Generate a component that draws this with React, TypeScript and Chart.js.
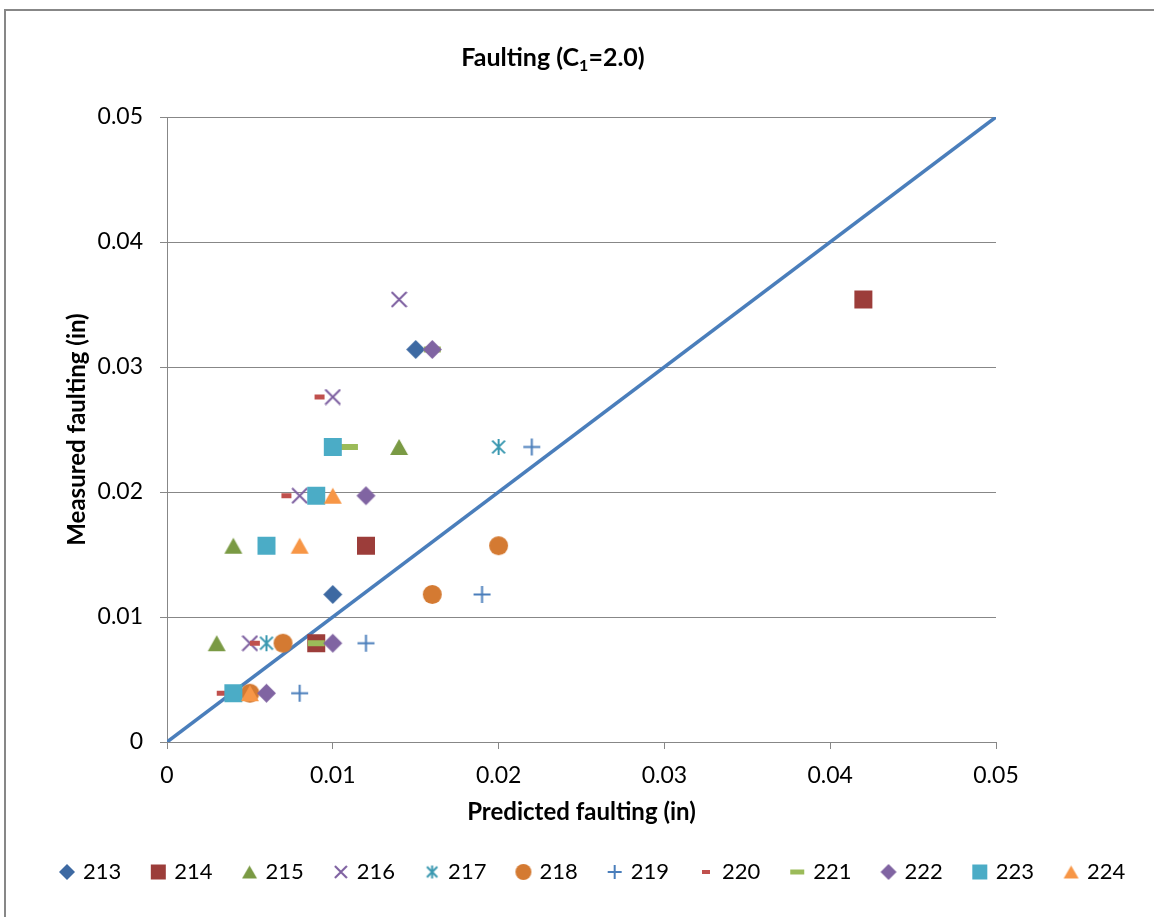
import React, { useEffect, useRef } from 'react';
import { Chart, registerables } from 'chart.js';

Chart.register(...registerables);

// ---- Data ----
const seriesNames = ['213', '214', '215', '216', '217', '218', '219', '220', '221', '222', '223', '224'];
const s213 = [[0.010, 0.0118], [0.015, 0.0314]];
const s214 = [[0.009, 0.0079], [0.012, 0.0157], [0.042, 0.0354]];
const s215 = [[0.003, 0.0079], [0.004, 0.0157], [0.014, 0.0236]];
const s216 = [[0.005, 0.0079], [0.008, 0.0197], [0.010, 0.0276], [0.014, 0.0354]];
const s217 = [[0.006, 0.0079], [0.020, 0.0236]];
const s218 = [[0.005, 0.0039], [0.007, 0.0079], [0.016, 0.0118], [0.020, 0.0157]];
const s219 = [[0.008, 0.0039], [0.012, 0.0079], [0.019, 0.0118], [0.022, 0.0236]];
const s220 = [[0.0033, 0.0039], [0.0053, 0.0079], [0.0072, 0.0197], [0.0092, 0.0276]];
const s221 = [[0.009, 0.0079], [0.011, 0.0236], [0.016, 0.0314]];
const s222 = [[0.006, 0.0039], [0.010, 0.0079], [0.012, 0.0197], [0.016, 0.0314]];
const s223 = [[0.004, 0.0039], [0.006, 0.0157], [0.009, 0.0197], [0.010, 0.0236]];
const s224 = [[0.005, 0.0039], [0.008, 0.0157], [0.010, 0.0197]];
const seriesData = [s213, s214, s215, s216, s217, s218, s219, s220, s221, s222, s223, s224];

const lineOfEquality = [[0, 0], [0.05, 0.05]];

const xTickLabels = ['0', '0.01', '0.02', '0.03', '0.04', '0.05'];
const yTickLabels = ['0', '0.01', '0.02', '0.03', '0.04', '0.05'];

const titleMain = 'Faulting (C';
const titleSub = '1';
const titleEnd = '=2.0)';
const xTitle = 'Predicted faulting (in)';
const yTitle = 'Measured faulting (in)';

// ---- Styles ----
const markerKinds = ['diamond', 'square', 'triangle', 'x', 'asterisk', 'circle', 'plus', 'dashS', 'dashL', 'diamond', 'square', 'triangle'];
const markerColors = ['#3D69A2', '#9C3D3A', '#7A9A44', '#7D5FA0', '#3A98B0', '#D47A32', '#4A7EBB', '#C0504D', '#9BBB59', '#8064A2', '#4BACC6', '#F79646'];
const FONT = 'Lato, "Open Sans", sans-serif';
const CANVAS_W = 1220;
const CANVAS_H = 917;

function makeMarker(kind: string, color: string, legend: boolean): HTMLCanvasElement {
  const k = legend ? 0.82 : 1;
  const c = document.createElement('canvas');
  const sz: Record<string, [number, number]> = {
    diamond: [19, 19], square: [18, 18], triangle: [18, 16], x: [15, 15], asterisk: [16, 16],
    circle: [19, 19], plus: [17, 17], dashS: [10, 5], dashL: [17, 6],
  };
  let [mw, mh] = sz[kind];
  mw = Math.round(mw * k); mh = Math.round(mh * k);
  const w = mw + 2, h = mh + 2;
  c.width = w; c.height = h;
  const ctx = c.getContext('2d')!;
  ctx.fillStyle = color; ctx.strokeStyle = color;
  const cx = w / 2, cy = h / 2;
  ctx.beginPath();
  switch (kind) {
    case 'diamond':
      ctx.moveTo(cx, cy - mh / 2); ctx.lineTo(cx + mw / 2, cy); ctx.lineTo(cx, cy + mh / 2); ctx.lineTo(cx - mw / 2, cy);
      ctx.closePath(); ctx.fill(); break;
    case 'square':
      ctx.rect(cx - mw / 2, cy - mh / 2, mw, mh); ctx.fill(); break;
    case 'triangle':
      ctx.moveTo(cx, cy - mh / 2); ctx.lineTo(cx + mw / 2, cy + mh / 2); ctx.lineTo(cx - mw / 2, cy + mh / 2);
      ctx.closePath(); ctx.fill(); break;
    case 'circle':
      ctx.arc(cx, cy, mw / 2, 0, Math.PI * 2); ctx.fill(); break;
    case 'x':
      ctx.lineWidth = 2;
      ctx.moveTo(cx - mw / 2, cy - mh / 2); ctx.lineTo(cx + mw / 2, cy + mh / 2);
      ctx.moveTo(cx + mw / 2, cy - mh / 2); ctx.lineTo(cx - mw / 2, cy + mh / 2);
      ctx.stroke(); break;
    case 'asterisk':
      ctx.lineWidth = 2;
      ctx.moveTo(cx - mw * 0.4, cy - mh * 0.4); ctx.lineTo(cx + mw * 0.4, cy + mh * 0.4);
      ctx.moveTo(cx + mw * 0.4, cy - mh * 0.4); ctx.lineTo(cx - mw * 0.4, cy + mh * 0.4);
      ctx.moveTo(cx, cy - mh / 2); ctx.lineTo(cx, cy + mh / 2);
      ctx.stroke(); break;
    case 'plus':
      ctx.lineWidth = 2;
      ctx.moveTo(cx - mw / 2, cy); ctx.lineTo(cx + mw / 2, cy);
      ctx.moveTo(cx, cy - mh / 2); ctx.lineTo(cx, cy + mh / 2);
      ctx.stroke(); break;
    case 'dashS':
    case 'dashL':
      ctx.rect(cx - mw / 2, cy - mh / 2, mw, mh); ctx.fill(); break;
  }
  return c;
}

const textPlugin = {
  id: 'customTexts',
  afterDraw(chart: any) {
    const ctx = chart.ctx;
    ctx.save();
    ctx.fillStyle = '#000';
    // Title with subscript
    const big = `bold 25px ${FONT}`;
    const small = `bold 16px ${FONT}`;
    ctx.font = big;
    const w1 = ctx.measureText(titleMain).width;
    const w3 = ctx.measureText(titleEnd).width;
    ctx.font = small;
    const w2 = ctx.measureText(titleSub).width;
    const total = w1 + w2 + w3;
    let x = 553 - total / 2;
    const base = 66;
    ctx.textBaseline = 'alphabetic';
    ctx.textAlign = 'left';
    ctx.font = big; ctx.fillText(titleMain, x, base); x += w1;
    ctx.font = small; ctx.fillText(titleSub, x, base + 5); x += w2;
    ctx.font = big; ctx.fillText(titleEnd, x, base);
    // Axis titles
    const area = chart.chartArea;
    ctx.font = `bold 24px ${FONT}`;
    ctx.textAlign = 'center';
    ctx.textBaseline = 'middle';
    ctx.fillText(xTitle, (area.left + area.right) / 2, 812);
    ctx.translate(77, (area.top + area.bottom) / 2);
    ctx.rotate(-Math.PI / 2);
    ctx.fillText(yTitle, 0, 0);
    ctx.restore();
  },
};

export default function App() {
  const ref = useRef<HTMLCanvasElement>(null);
  useEffect(() => {
    if (!ref.current) return;
    const chartMarkers = markerKinds.map((k, i) => makeMarker(k, markerColors[i], false));
    const legendMarkers = markerKinds.map((k, i) => makeMarker(k, markerColors[i], true));
    const datasets: any[] = seriesData.map((pts, i) => ({
      type: 'scatter',
      label: seriesNames[i],
      data: pts.map(([x, y]) => ({ x, y })),
      pointStyle: chartMarkers[i],
      pointRadius: 9,
      pointHoverRadius: 9,
      backgroundColor: markerColors[i],
      borderColor: markerColors[i],
      showLine: false,
      order: -i,
    }));
    datasets.push({
      type: 'line',
      label: 'equality',
      data: lineOfEquality.map(([x, y]) => ({ x, y })),
      borderColor: '#4A7EBB',
      borderWidth: 3.5,
      pointRadius: 0,
      fill: false,
      order: 100,
    });
    const gridColor = '#878787';
    const chart = new Chart(ref.current, {
      type: 'scatter',
      data: { datasets },
      plugins: [textPlugin],
      options: {
        animation: false,
        responsive: false,
        layout: { padding: { left: 30, right: 0, top: 117, bottom: 24 } },
        plugins: {
          title: { display: false },
          tooltip: { enabled: false },
          legend: {
            position: 'bottom',
            align: 'start',
            labels: {
              usePointStyle: true,
              boxWidth: 10,
              boxHeight: 10,
              padding: 32,
              color: '#000',
              font: { family: FONT, size: 22 },
              generateLabels: () =>
                seriesNames.map((name, i) => ({
                  text: name,
                  pointStyle: legendMarkers[i],
                  fillStyle: markerColors[i],
                  strokeStyle: markerColors[i],
                  lineWidth: 0,
                  hidden: false,
                  datasetIndex: i,
                  fontColor: '#000',
                })),
            },
          },
        },
        scales: {
          x: {
            type: 'linear',
            min: 0,
            max: 0.05,
            afterFit: (s: any) => { s.height = 87; },
            ticks: {
              stepSize: 0.01,
              color: '#000',
              padding: 13,
              font: { family: FONT, size: 23 },
              maxRotation: 0,
              callback: (_v: any, i: number) => xTickLabels[i],
            },
            grid: { drawOnChartArea: false, drawTicks: true, tickLength: 7, color: gridColor },
            border: { display: true, color: gridColor, width: 1 },
          },
          y: {
            type: 'linear',
            min: 0,
            max: 0.05,
            afterFit: (s: any) => { s.width = 137; },
            ticks: {
              stepSize: 0.01,
              color: '#000',
              padding: 17,
              font: { family: FONT, size: 23 },
              callback: (_v: any, i: number) => yTickLabels[i],
            },
            grid: { drawTicks: true, tickLength: 7, color: gridColor },
            border: { display: true, color: gridColor, width: 1 },
          },
          yRight: {
            type: 'linear',
            position: 'right',
            display: true,
            afterFit: (s: any) => { s.width = CANVAS_W - 996; },
            ticks: { display: false },
            grid: { display: false },
            border: { display: false },
          },
        },
      } as any,
    });
    return () => chart.destroy();
  }, []);
  return (
    <div style={{ position: 'fixed', left: 0, top: 0, width: 1154, height: 917, overflow: 'hidden', background: '#fff' }}>
      <div style={{ position: 'absolute', left: 4, top: 9, width: 1300, height: 1100, border: '2px solid #878787' }} />
      <canvas ref={ref} width={CANVAS_W} height={CANVAS_H} style={{ position: 'absolute', left: 0, top: 0, width: CANVAS_W, height: CANVAS_H }} />
    </div>
  );
}
